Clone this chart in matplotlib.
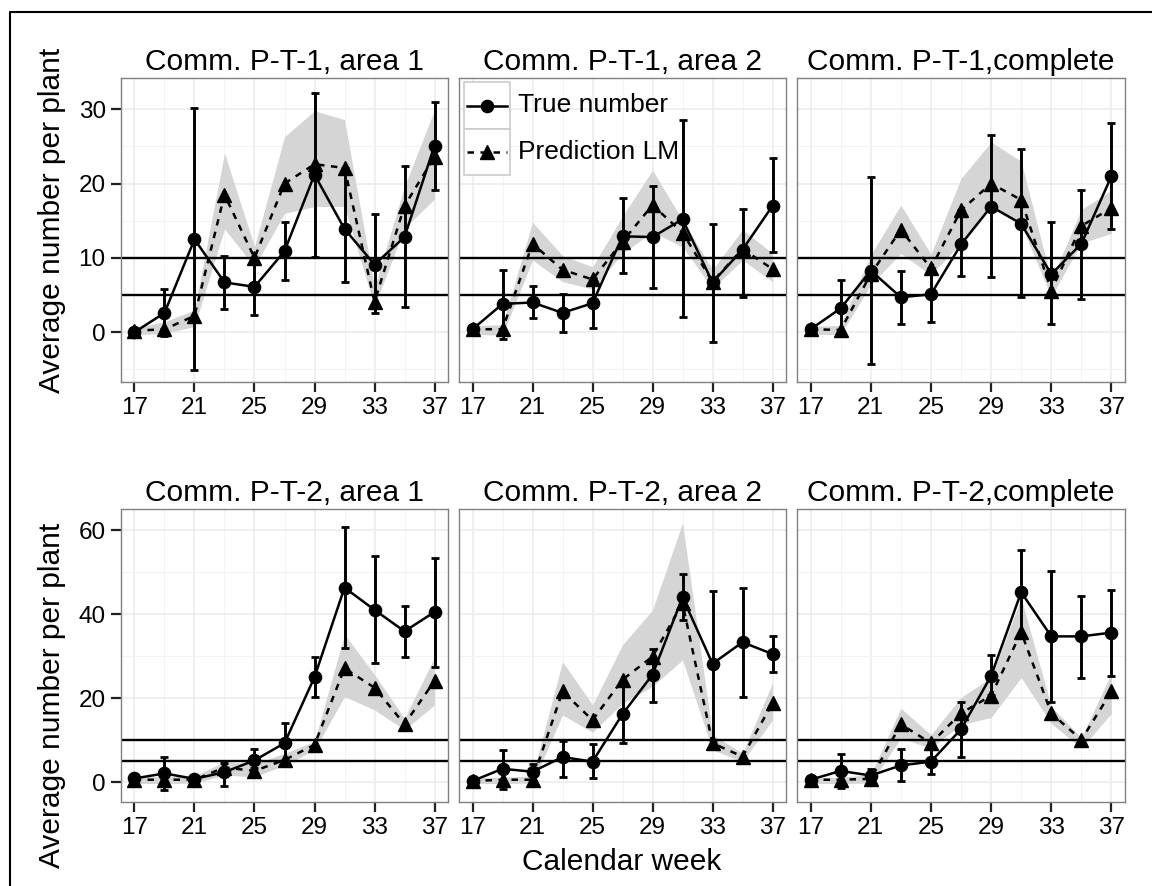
import matplotlib
matplotlib.use("Agg")
import matplotlib.pyplot as plt
import numpy as np
from matplotlib.lines import Line2D
from matplotlib.patches import Rectangle
from matplotlib.ticker import FixedLocator

plt.rcParams['font.family'] = ['Liberation Sans', 'DejaVu Sans']

# ---------------- data ----------------
weeks = [17, 19, 21, 23, 25, 27, 29, 31, 33, 35, 37]
x_ticks = [17, 21, 25, 29, 33, 37]
titles = ["Comm. P-T-1, area 1", "Comm. P-T-1, area 2", "Comm. P-T-1,complete",
          "Comm. P-T-2, area 1", "Comm. P-T-2, area 2", "Comm. P-T-2,complete"]
thresholds = [5, 10]
legend_labels = ["True number", "Prediction LM"]
x_label = "Calendar week"
y_label = "Average number per plant"

# P-T-1, area 1
t1a1_true    = [0.0, 2.6, 12.5, 6.7, 6.1, 10.9, 21.2, 13.9, 9.1, 12.8, 25.1]
t1a1_true_lo = [None, -0.5, -5.1, 3.1, 2.3, 7.0, 10.1, 6.7, 2.6, 3.4, 19.1]
t1a1_true_hi = [None, 5.8, 30.1, 10.3, 10.0, 14.8, 32.2, 22.1, 15.9, 22.3, 31.0]
t1a1_pred    = [0.2, 0.4, 2.2, 18.5, 10.0, 20.0, 22.6, 22.1, 4.1, 17.0, 23.6]
t1a1_pred_lo = [-0.3, -0.2, 0.8, 13.9, 8.8, 16.0, 16.9, 16.9, 3.5, 14.0, 17.9]
t1a1_pred_hi = [0.6, 1.4, 3.0, 24.1, 11.5, 26.3, 29.8, 28.6, 6.1, 19.6, 29.9]

# P-T-1, area 2
t1a2_true    = [0.4, 3.8, 4.0, 2.6, 3.9, 12.9, 12.8, 15.2, 6.7, 11.1, 17.0]
t1a2_true_lo = [None, -0.9, 1.9, 0.0, 0.5, 8.0, 5.9, 2.0, -1.3, 4.8, 10.8]
t1a2_true_hi = [None, 8.4, 6.2, 5.2, 7.3, 18.0, 19.7, 28.5, 14.5, 16.6, 23.4]
t1a2_pred    = [0.4, 0.4, 11.9, 8.4, 7.1, 12.2, 17.1, 13.4, 6.8, 11.2, 8.5]
t1a2_pred_lo = [-0.3, -0.4, 9.7, 6.8, 5.8, 10.6, 13.5, 11.5, 5.9, 9.7, 6.8]
t1a2_pred_hi = [0.9, 1.0, 14.8, 10.3, 8.8, 15.6, 21.8, 15.1, 8.4, 13.8, 10.6]

# P-T-1, complete
t1c_true    = [0.4, 3.2, 8.3, 4.7, 5.1, 11.8, 16.9, 14.6, 7.8, 11.9, 21.0]
t1c_true_lo = [None, -0.2, -4.3, 1.1, 1.4, 7.6, 7.4, 4.7, 1.1, 4.4, 13.9]
t1c_true_hi = [None, 7.0, 20.9, 8.3, 8.6, 16.5, 26.5, 24.6, 14.8, 19.1, 28.2]
t1c_pred    = [0.4, 0.3, 7.8, 13.8, 8.6, 16.4, 20.0, 17.8, 5.6, 14.3, 16.7]
t1c_pred_lo = [-0.3, -0.3, 6.4, 10.6, 7.7, 12.0, 17.1, 14.4, 4.8, 12.0, 13.3]
t1c_pred_hi = [0.8, 0.9, 10.4, 17.1, 10.5, 20.7, 25.6, 23.0, 7.0, 16.5, 19.1]

# P-T-2, area 1
t2a1_true    = [0.9, 2.1, 0.8, 2.4, 5.2, 9.3, 25.0, 46.3, 41.0, 35.9, 40.5]
t2a1_true_lo = [None, -1.8, None, -0.8, 3.3, 5.3, 20.2, 31.9, 28.3, 29.9, 27.4]
t2a1_true_hi = [None, 6.0, None, 4.5, 7.9, 14.0, 29.7, 60.7, 53.9, 42.0, 53.3]
t2a1_pred    = [0.6, 0.6, 0.6, 3.5, 2.7, 5.3, 8.9, 27.1, 22.5, 13.8, 24.1]
t2a1_pred_lo = [-0.3, -0.3, -0.2, 1.7, 1.3, 4.0, 7.7, 20.4, 17.2, 12.5, 18.4]
t2a1_pred_hi = [1.3, 1.3, 1.5, 4.9, 4.3, 6.9, 9.7, 35.2, 25.6, 15.2, 29.7]

# P-T-2, area 2
t2a2_true    = [0.3, 3.2, 2.5, 6.0, 4.9, 16.2, 25.6, 44.0, 28.2, 33.3, 30.5]
t2a2_true_lo = [None, -1.7, 0.2, 1.3, 1.1, 9.4, 19.2, 38.5, 10.0, 20.2, 26.2]
t2a2_true_hi = [None, 7.7, 4.3, 9.8, 9.0, 22.8, 31.7, 49.5, 45.4, 46.3, 34.9]
t2a2_pred    = [0.3, 0.6, 0.6, 21.6, 14.8, 24.4, 29.9, 42.6, 9.3, 6.1, 18.8]
t2a2_pred_lo = [-0.3, -0.3, -0.2, 16.0, 11.9, 18.8, 22.8, 29.1, 7.7, 4.9, 14.8]
t2a2_pred_hi = [1.0, 1.2, 1.5, 28.7, 18.4, 32.7, 41.0, 61.7, 11.3, 6.9, 23.6]

# P-T-2, complete
t2c_true    = [0.6, 2.7, 1.6, 4.0, 4.9, 12.6, 25.3, 45.2, 34.7, 34.7, 35.6]
t2c_true_lo = [None, -1.4, 0.3, 0.2, 2.0, 6.1, 20.8, 35.0, 19.2, 24.9, 25.2]
t2c_true_hi = [None, 6.7, 3.2, 7.9, 9.7, 19.2, 30.3, 55.3, 50.2, 44.4, 45.8]
t2c_pred    = [0.6, 0.6, 0.8, 13.8, 9.3, 16.4, 20.6, 35.7, 16.4, 10.1, 21.6]
t2c_pred_lo = [-0.3, -0.3, -0.2, 10.5, 8.1, 13.7, 15.4, 24.9, 14.0, 8.1, 16.4]
t2c_pred_hi = [1.0, 1.2, 1.8, 17.6, 11.3, 20.2, 24.9, 43.8, 18.0, 10.6, 26.0]

row_yticks = [[0, 10, 20, 30], [0, 20, 40, 60]]
row_yminor = [[-5, 5, 15, 25], [10, 30, 50]]
row_ylim = [(-6.7, 34.2), (-4.7, 65.0)]

panels = [
    (t1a1_true, t1a1_true_lo, t1a1_true_hi, t1a1_pred, t1a1_pred_lo, t1a1_pred_hi),
    (t1a2_true, t1a2_true_lo, t1a2_true_hi, t1a2_pred, t1a2_pred_lo, t1a2_pred_hi),
    (t1c_true, t1c_true_lo, t1c_true_hi, t1c_pred, t1c_pred_lo, t1c_pred_hi),
    (t2a1_true, t2a1_true_lo, t2a1_true_hi, t2a1_pred, t2a1_pred_lo, t2a1_pred_hi),
    (t2a2_true, t2a2_true_lo, t2a2_true_hi, t2a2_pred, t2a2_pred_lo, t2a2_pred_hi),
    (t2c_true, t2c_true_lo, t2c_true_hi, t2c_pred, t2c_pred_lo, t2c_pred_hi),
]

# ---------------- layout ----------------
W, H = 1152, 886
fig = plt.figure(figsize=(W / 100, H / 100), dpi=100)
fig.patch.set_facecolor('white')


def rect(x0, y0, x1, y1):
    return [x0 / W, 1 - y1 / H, (x1 - x0) / W, (y1 - y0) / H]


cols_px = [(121, 448), (459, 786), (797, 1125)]
rows_px = [(78, 382), (509, 802)]

LW = 1.8
DASH = (0, (2.6, 2.6))
CIRC_MS = 8.8
TRI_MS = 10.5
ribbon_col = '#D5D5D5'
axes = []
for i, data in enumerate(panels):
    r, c = divmod(i, 3)
    x0, x1 = cols_px[c]
    y0, y1 = rows_px[r]
    ax = fig.add_axes(rect(x0, y0, x1, y1))
    axes.append(ax)
    tr, tlo, thi, pr, plo, phi = data

    ax.fill_between(weeks, plo, phi, color=ribbon_col, lw=0, zorder=1)
    for h in thresholds:
        ax.axhline(h, color='black', lw=1.7, zorder=2)
    ax.plot(weeks, pr, color='black', lw=LW, ls=DASH,
            marker='^', ms=TRI_MS, zorder=3)
    ax.plot(weeks, tr, color='black', lw=LW, ls='-', marker='o', ms=CIRC_MS, zorder=4)

    ex, ey, elo, ehi = [], [], [], []
    for w, v, lo, hi in zip(weeks, tr, tlo, thi):
        if lo is None or hi is None:
            continue
        ex.append(w); ey.append(v); elo.append(v - lo); ehi.append(hi - v)
    ax.errorbar(ex, ey, yerr=[elo, ehi], fmt='none', ecolor='black',
                elinewidth=2.1, capsize=2.6, capthick=2.0, zorder=5)

    ax.set_xlim(16.1, 37.9)
    ax.set_ylim(*row_ylim[r])
    ax.set_xticks(x_ticks)
    ax.xaxis.set_minor_locator(FixedLocator([19, 23, 27, 31, 35]))
    ax.set_yticks(row_yticks[r])
    ax.yaxis.set_minor_locator(FixedLocator(row_yminor[r]))
    ax.set_axisbelow(True)
    ax.grid(which='major', color='#EBEBEB', lw=1.1, zorder=0)
    ax.grid(which='minor', color='#F3F3F3', lw=0.7, zorder=0)
    ax.tick_params(which='major', length=7, width=1.6, color='#222222',
                   labelsize=17.5, pad=4, labelcolor='black')
    ax.tick_params(which='minor', length=0)
    if c != 0:
        ax.tick_params(axis='y', left=False, labelleft=False)
    for sp in ax.spines.values():
        sp.set_color('#808080')
        sp.set_linewidth(1.0)
    ax.set_title(titles[i], fontsize=21.5, pad=6)

# ---------------- legend (inside top-middle panel) ----------------
lax = axes[1]
px0, px1 = cols_px[1]
py0, py1 = rows_px[0]


def ax_xy(px, py):
    return (px - px0) / (px1 - px0), 1 - (py - py0) / (py1 - py0)


key_styles = [dict(ls='-', marker='o', ms=CIRC_MS), dict(ls=DASH, marker='^', ms=TRI_MS)]
key_rows = [(82, 129), (129, 175)]
for (ky0, ky1), sty, lab in zip(key_rows, key_styles, legend_labels):
    bx0, by1 = ax_xy(464, ky0)
    bx1, by0 = ax_xy(510, ky1)
    lax.add_patch(Rectangle((bx0, by0), bx1 - bx0, by1 - by0, transform=lax.transAxes,
                            facecolor='white', edgecolor='#CCCCCC', lw=1.2,
                            zorder=6, clip_on=False))
    ym = (by0 + by1) / 2
    lx0, _ = ax_xy(467, 0)
    lx1, _ = ax_xy(507, 0)
    lax.add_line(Line2D([lx0, (lx0 + lx1) / 2, lx1], [ym, ym, ym], transform=lax.transAxes,
                        color='black', lw=LW, markevery=[1], zorder=7, **sty))
    tx, _ = ax_xy(518, 0)
    lax.text(tx, ym, lab, transform=lax.transAxes, fontsize=19, va='center',
             ha='left', zorder=7)

# ---------------- axis labels ----------------
fig.text(52 / W, 1 - 220 / H, y_label, rotation=90, ha='center', va='center', fontsize=21.5)
fig.text(52 / W, 1 - 695 / H, y_label, rotation=90, ha='center', va='center', fontsize=21.5)
fig.text(622 / W, 1 - 862 / H, x_label, ha='center', va='center', fontsize=21.5)

# outer frame (left and top edges visible)
fig.add_artist(Line2D([10 / W, 10 / W, 1.0], [0.0, 1 - 12 / H, 1 - 12 / H],
                      transform=fig.transFigure, color='black', lw=1.5))

fig.savefig('out.png', dpi=100)
